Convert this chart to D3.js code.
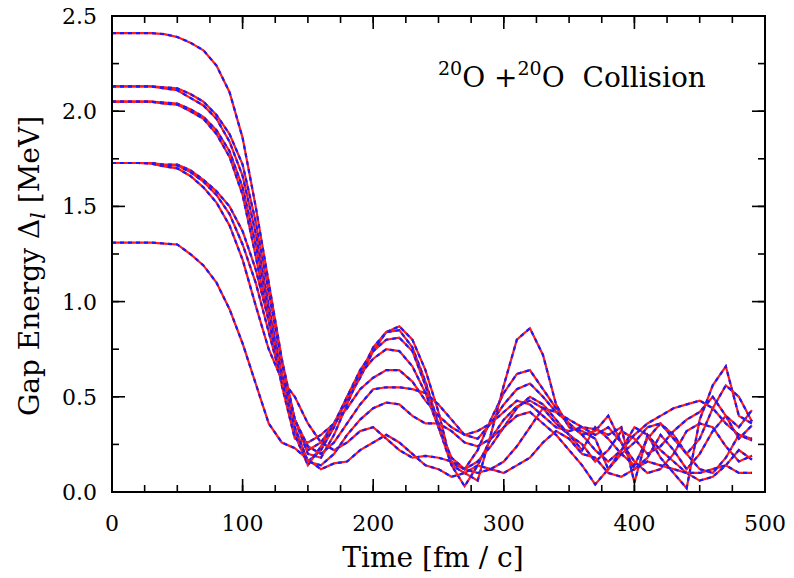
<!DOCTYPE html>
<html>
<head>
<meta charset="utf-8">
<script src="https://cdn.jsdelivr.net/npm/d3@7"></script>
<style>
  body { margin: 0; background: #fff; }
  svg text { font-family: "DejaVu Serif", serif; fill: #000; }
</style>
</head>
<body>
<div id="chart"></div>
<script>
// temps en fm/c, un point tous les 10
const times = d3.range(0, 500, 10);

// gaps par niveau (MeV)
const gapA  = [2.41,2.41,2.41,2.41,2.405, 2.39,2.36,2.32,2.24,2.10, 1.86,1.50,1.10,0.70,0.38, 0.22,0.26,0.36,0.48,0.60, 0.74,0.84,0.87,0.80,0.64, 0.42,0.14,0.03,0.14,0.28, 0.38,0.45,0.48,0.44,0.36, 0.30,0.25,0.16,0.22,0.32, 0.28,0.20,0.24,0.32,0.38, 0.42,0.50,0.40,0.28,0.35];
const gapB1 = [2.13,2.13,2.13,2.13,2.125, 2.12,2.09,2.05,1.98,1.88, 1.72,1.42,1.05,0.68,0.38, 0.20,0.18,0.30,0.46,0.62, 0.76,0.84,0.85,0.76,0.58, 0.36,0.15,0.12,0.22,0.38, 0.52,0.62,0.64,0.54,0.44, 0.36,0.30,0.32,0.40,0.26, 0.12,0.18,0.30,0.22,0.12, 0.20,0.32,0.40,0.34,0.43];
const gapB2 = [2.13,2.13,2.13,2.13,2.12, 2.11,2.07,2.03,1.96,1.84, 1.66,1.36,0.98,0.62,0.33, 0.16,0.22,0.34,0.50,0.64, 0.74,0.80,0.81,0.74,0.56, 0.34,0.14,0.10,0.06,0.30, 0.56,0.80,0.86,0.72,0.46, 0.34,0.32,0.28,0.12,0.22, 0.34,0.30,0.18,0.10,0.02, 0.38,0.56,0.66,0.40,0.36];
const gapC1 = [2.05,2.05,2.05,2.05,2.045, 2.04,2.01,1.97,1.90,1.79, 1.60,1.30,0.95,0.60,0.30, 0.14,0.24,0.36,0.50,0.62, 0.70,0.75,0.74,0.66,0.52, 0.34,0.18,0.12,0.16,0.24, 0.34,0.44,0.50,0.46,0.38, 0.30,0.22,0.34,0.28,0.20, 0.14,0.28,0.36,0.30,0.20, 0.12,0.10,0.18,0.30,0.28];
const gapC2 = [2.05,2.05,2.05,2.05,2.04, 2.035,2.00,1.96,1.88,1.76, 1.56,1.24,0.90,0.56,0.28, 0.26,0.30,0.36,0.44,0.54, 0.60,0.64,0.64,0.58,0.48, 0.40,0.34,0.30,0.32,0.36, 0.42,0.48,0.46,0.40,0.34, 0.32,0.34,0.33,0.30,0.34, 0.05,0.30,0.22,0.16,0.10, 0.06,0.08,0.14,0.22,0.17];
const gapD1 = [1.728,1.728,1.728,1.728,1.72, 1.72,1.69,1.64,1.58,1.50, 1.37,1.17,0.90,0.62,0.38, 0.24,0.20,0.26,0.36,0.46, 0.54,0.55,0.55,0.54,0.52, 0.46,0.38,0.30,0.28,0.36, 0.46,0.54,0.57,0.50,0.42, 0.38,0.34,0.30,0.34,0.26, 0.16,0.10,0.12,0.20,0.32, 0.36,0.34,0.24,0.16,0.19];
const gapD2 = [1.728,1.728,1.728,1.728,1.715, 1.715,1.68,1.63,1.56,1.46, 1.30,1.10,0.84,0.58,0.34, 0.16,0.14,0.20,0.30,0.38, 0.44,0.47,0.46,0.40,0.36, 0.36,0.32,0.26,0.24,0.28, 0.34,0.40,0.42,0.36,0.30, 0.22,0.14,0.04,0.12,0.20, 0.26,0.34,0.36,0.28,0.20, 0.28,0.44,0.56,0.50,0.37];
const gapD3 = [1.728,1.728,1.728,1.725,1.71, 1.70,1.66,1.60,1.52,1.40, 1.22,0.98,0.75,0.59,0.50, 0.36,0.26,0.22,0.26,0.32, 0.34,0.28,0.22,0.18,0.19, 0.18,0.16,0.12,0.10,0.12, 0.16,0.24,0.34,0.44,0.42, 0.36,0.30,0.22,0.16,0.22, 0.30,0.36,0.40,0.44,0.46, 0.48,0.44,0.36,0.30,0.27];
const gapE  = [1.31,1.31,1.31,1.31,1.305, 1.30,1.25,1.19,1.10,0.96, 0.78,0.57,0.36,0.26,0.23, 0.17,0.12,0.15,0.16,0.22, 0.26,0.30,0.26,0.20,0.14, 0.12,0.08,0.10,0.14,0.12, 0.10,0.14,0.18,0.26,0.32, 0.28,0.20,0.18,0.10,0.08, 0.12,0.16,0.14,0.12,0.10, 0.10,0.12,0.14,0.10,0.10];

const series = [gapA, gapB1, gapB2, gapC1, gapC2, gapD1, gapD2, gapD3, gapE];

const xMajor = [0, 100, 200, 300, 400, 500];
const xMinor = d3.range(0, 501, 25);
const yMajor = [0.0, 0.5, 1.0, 1.5, 2.0, 2.5];
const yMinor = d3.range(0, 2.51, 0.25);

const width = 794, height = 578;
const mLeft = 112, mRight = 765, mTop = 16, mBottom = 492;

const svg = d3.select("#chart").append("svg")
    .attr("width", width)
    .attr("height", height);

const x = d3.scaleLinear().domain([0, 500]).range([mLeft, mRight]);
const y = d3.scaleLinear().domain([0, 2.5]).range([mBottom, mTop]);

// courbes : trait rouge plein + tirets bleus par dessus
const line = d3.line()
    .x((d, i) => x(times[i]))
    .y(d => y(d));

const curves = svg.append("g");
series.forEach(s => {
    curves.append("path")
        .attr("d", line(s))
        .attr("fill", "none")
        .attr("stroke", "#ff1a1a")
        .attr("stroke-width", 2.2);
    curves.append("path")
        .attr("d", line(s))
        .attr("fill", "none")
        .attr("stroke", "#1a1aff")
        .attr("stroke-width", 2.2)
        .attr("stroke-dasharray", "4,4");
});

// graduations vers l'intérieur sur les 4 côtés
const ticks = svg.append("g").attr("stroke", "#000").attr("stroke-width", 1.6);
function xTicks(values, len) {
    values.forEach(v => {
        ticks.append("line").attr("x1", x(v)).attr("x2", x(v)).attr("y1", mBottom).attr("y2", mBottom - len);
        ticks.append("line").attr("x1", x(v)).attr("x2", x(v)).attr("y1", mTop).attr("y2", mTop + len);
    });
}
function yTicks(values, len) {
    values.forEach(v => {
        ticks.append("line").attr("y1", y(v)).attr("y2", y(v)).attr("x1", mLeft).attr("x2", mLeft + len);
        ticks.append("line").attr("y1", y(v)).attr("y2", y(v)).attr("x1", mRight).attr("x2", mRight - len);
    });
}
xTicks(xMinor, 7);
xTicks(xMajor, 13);
yTicks(yMinor, 7);
yTicks(yMajor, 13);

svg.append("rect")
    .attr("x", mLeft).attr("y", mTop)
    .attr("width", mRight - mLeft).attr("height", mBottom - mTop)
    .attr("fill", "none")
    .attr("stroke", "#000")
    .attr("stroke-width", 2);

// libellés des graduations
svg.append("g").selectAll("text")
    .data(xMajor)
    .join("text")
    .attr("x", d => x(d))
    .attr("y", 531)
    .attr("text-anchor", "middle")
    .style("font-size", "22px")
    .text(d3.format("d"));

svg.append("g").selectAll("text")
    .data(yMajor)
    .join("text")
    .attr("x", 97)
    .attr("y", d => y(d) + 8)
    .attr("text-anchor", "end")
    .style("font-size", "22px")
    .text(d3.format(".1f"));

// titres
svg.append("text")
    .attr("x", 433)
    .attr("y", 567)
    .attr("text-anchor", "middle")
    .style("font-size", "28px")
    .text("Time [fm / c]");

const yt = svg.append("text")
    .attr("transform", `translate(39,${(mTop + mBottom) / 2 + 12}) rotate(-90)`)
    .attr("text-anchor", "middle")
    .style("font-size", "28px");
yt.append("tspan").text("Gap Energy \u0394");
yt.append("tspan").attr("dy", 6).style("font-style", "italic").style("font-size", "21px").text("l");
yt.append("tspan").attr("dy", -6).text(" [MeV]");

const lbl = svg.append("text")
    .attr("x", 438)
    .attr("y", 87)
    .style("font-size", "28px");
lbl.append("tspan").attr("dy", -12).style("font-size", "19px").text("20");
lbl.append("tspan").attr("dy", 12).text("O +");
lbl.append("tspan").attr("dy", -12).style("font-size", "19px").text("20");
lbl.append("tspan").attr("dy", 12).text("O\u00a0\u00a0Collision");
</script>
</body>
</html>
